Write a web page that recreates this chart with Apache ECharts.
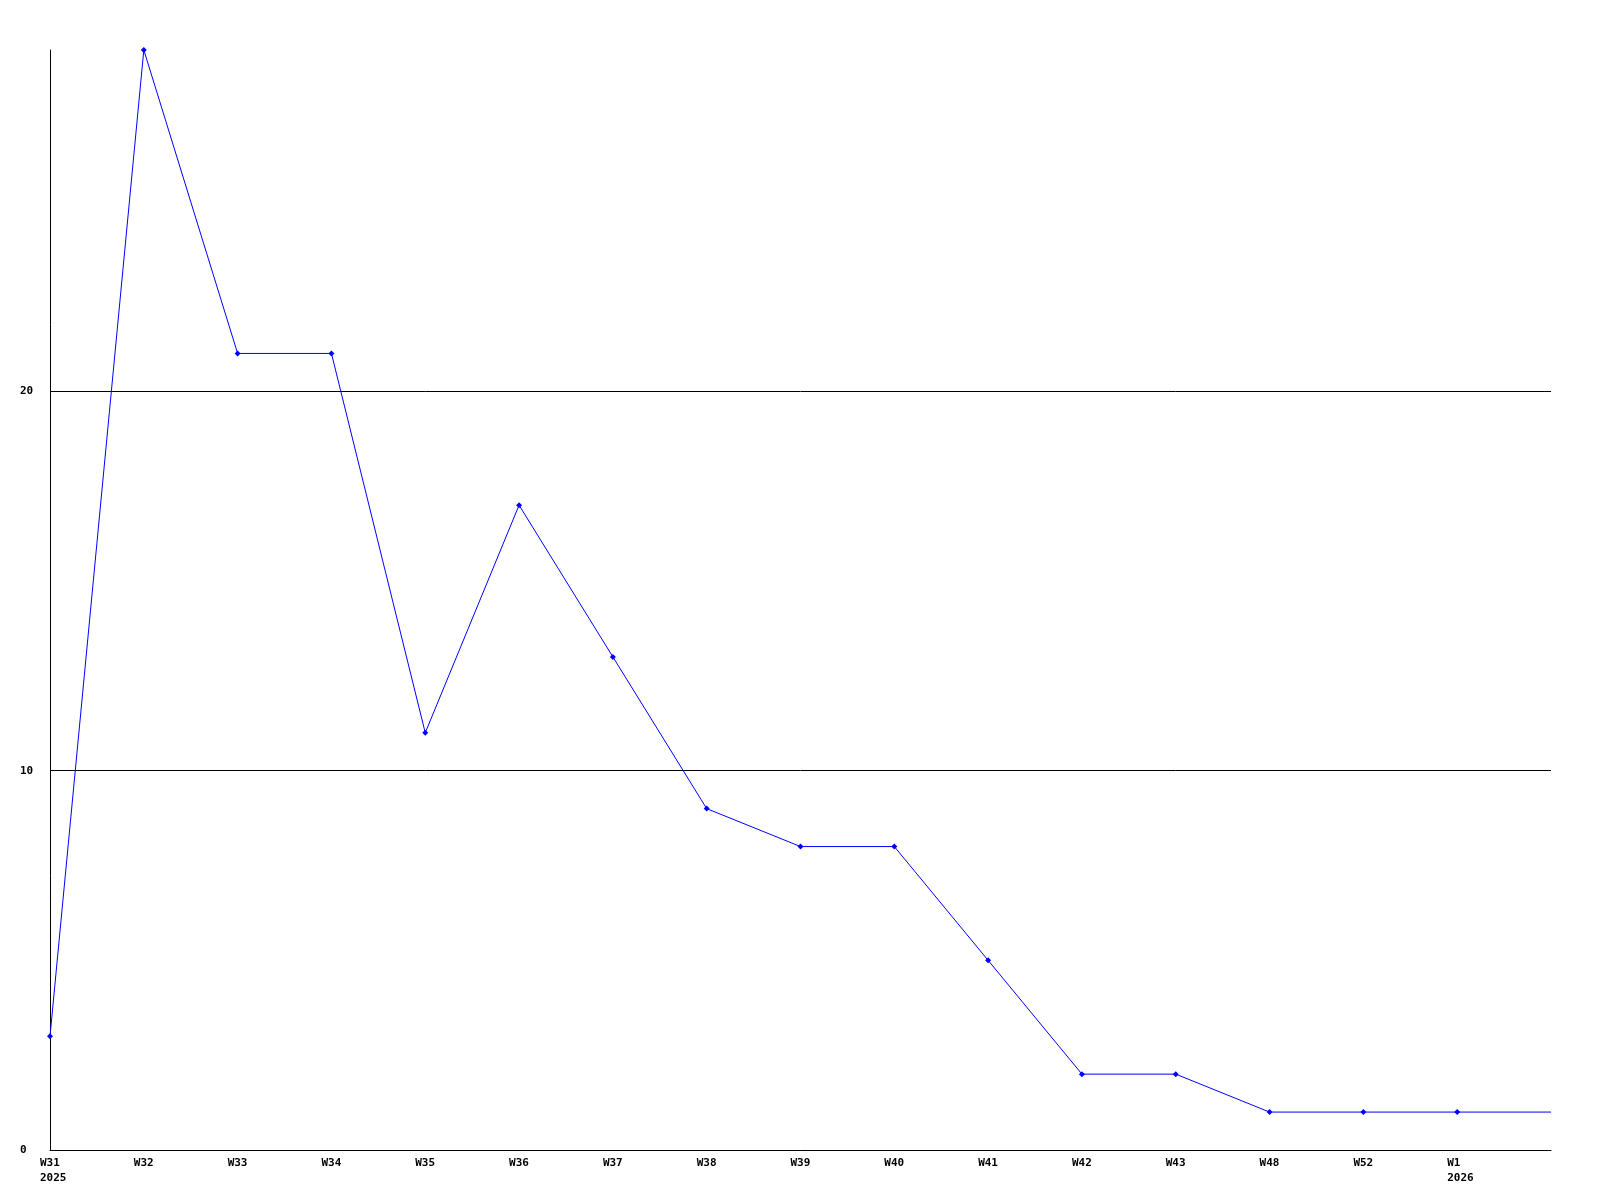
<!DOCTYPE html>
<html>
<head>
<meta charset="utf-8">
<script src="https://cdn.jsdelivr.net/npm/echarts@6/dist/echarts.min.js"></script>
<style>
  html, body { margin: 0; padding: 0; background: #fff; }
  #chart { width: 1600px; height: 1200px; }
</style>
</head>
<body>
<div id="chart"></div>
<script>
const weeks = ['W31', 'W32', 'W33', 'W34', 'W35', 'W36', 'W37', 'W38', 'W39', 'W40', 'W41', 'W42', 'W43', 'W48', 'W52', 'W1', '']
const years = { 'W31': '2025', 'W1': '2026' }
const counts = [3, 29, 21, 21, 11, 17, 13, 9, 8, 8, 5, 2, 2, 1, 1, 1, 1]
const yTicks = [0, 10, 20]

const labelFont = {
  fontFamily: 'DejaVu Sans Mono',
  fontWeight: 'bold',
  fontSize: 11,
  color: '#000'
}

// the trailing point only carries the line to the edge, no marker
const seriesData = counts.map((v, i) => (
  weeks[i] ? v : { value: v, symbol: 'none' }
))

const chart = echarts.init(document.getElementById('chart'))

const options = {
  animation: false,
  backgroundColor: '#fff',
  grid: {
    left: 50,
    top: 50,
    right: 49,
    bottom: 50
  },
  xAxis: {
    type: 'category',
    boundaryGap: false,
    data: weeks,
    axisLine: { lineStyle: { color: '#000', width: 1 } },
    axisTick: { show: false },
    axisLabel: {
      interval: 0,
      margin: 6,
      formatter: (v) => {
        if (!v) return ''
        return years[v] ? '{a|' + v + '}\n{a|' + years[v] + '}' : '{a|' + v + '}'
      },
      rich: {
        a: Object.assign({ width: 20, align: 'left', lineHeight: 15 }, labelFont)
      }
    },
    splitLine: { show: false }
  },
  yAxis: {
    type: 'value',
    min: 0,
    max: 29,
    interval: 10,
    axisLine: { show: true, lineStyle: { color: '#000', width: 1 } },
    axisTick: { show: false },
    axisLabel: Object.assign({
      align: 'left',
      margin: 30,
      showMaxLabel: false,
      formatter: (v) => yTicks.includes(v) ? String(v) : ''
    }, labelFont),
    splitLine: {
      show: true,
      showMaxLine: false,
      lineStyle: { color: '#000', width: 1 }
    }
  },
  series: [
    {
      type: 'line',
      data: seriesData,
      symbol: 'diamond',
      symbolSize: 6,
      showAllSymbol: true,
      lineStyle: { color: '#0000ff', width: 1 },
      itemStyle: { color: '#0000ff' },
      emphasis: { disabled: true }
    }
  ]
}

chart.setOption(options)
</script>
</body>
</html>
